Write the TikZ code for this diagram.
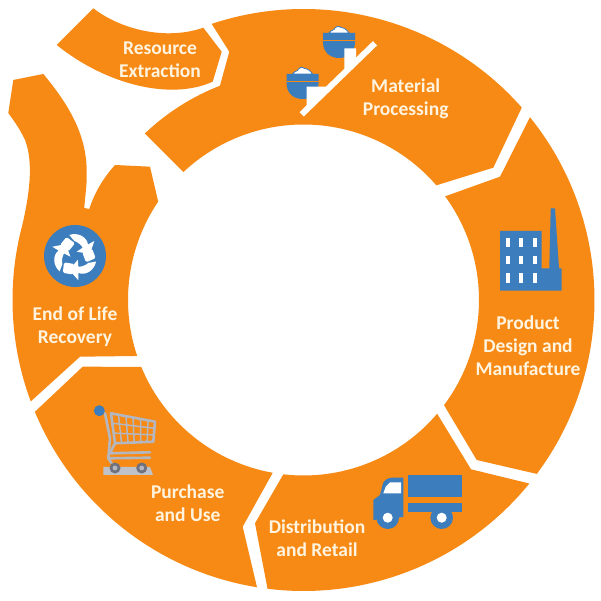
\documentclass[tikz,border=0pt]{standalone}
\usepackage{fontspec}
\setmainfont{Carlito}
\usetikzlibrary{calc}
\definecolor{ringor}{HTML}{F68A15}
\definecolor{iconbl}{HTML}{3B7DBD}
\definecolor{creamt}{HTML}{FFF4E0}
\definecolor{cartgr}{HTML}{B4B7C0}
\definecolor{cartdk}{HTML}{6F727C}
\tikzset{
  seg/.style={fill=ringor,draw=none},
  lab/.style={text=creamt,font=\fontsize{19.5}{23}\selectfont\bfseries,align=center,inner sep=0pt},
  iconf/.style={fill=iconbl,draw=none},
  whitef/.style={fill=white,draw=none},
  wire/.style={draw=cartgr,line width=1.5pt},
  tube/.style={draw=cartgr,line width=2.6pt,line cap=round,line join=round},
  hopper/.pic={
    \fill[iconbl] (-16,0) -- (16,0) -- (16,-9) .. controls (16,-20) and (8,-25) .. (0,-25) .. controls (-8,-25) and (-16,-20) .. (-16,-9) -- cycle;
    \draw[ringor,line width=0.8pt] (-16,-7) -- (16,-7);
    \draw[fill=white,draw=iconbl,line width=0.8pt] (-10,0) .. controls (-8,1) and (-8,3.5) .. (-5,3.5) .. controls (-4,6.5) and (0,7.5) .. (2,5.5) .. controls (5,5.5) and (8,3) .. (10,0) -- cycle;
  }
}
\begin{document}
\begin{tikzpicture}[x=1pt,y=1pt]
\useasboundingbox (0,0) rectangle (600,601);
\fill[white] (0,0) rectangle (600,601);
\coordinate (C) at (303.5,301);
% ring segments
\fill[seg] ([shift={(108.4:291pt)}]C) arc[start angle=108.4,end angle=41.4,radius=291pt] -- (493.3,433.3) -- ([shift={(40.8:175.5pt)}]C) arc[start angle=40.8,end angle=133.2,radius=175.5pt] -- ([shift={(133.6:230pt)}]C) arc[start angle=133.6,end angle=111.3,radius=230pt] -- (229.3,549.3) -- cycle;
\fill[seg] ([shift={(38.9:291pt)}]C) arc[start angle=38.9,end angle=-36.7,radius=291pt] -- (476.7,141) -- ([shift={(-36.8:175.5pt)}]C) arc[start angle=-36.8,end angle=36.2,radius=175.5pt] -- (500,424.3) -- cycle;
\fill[seg] ([shift={(-39.1:291pt)}]C) arc[start angle=-39.1,end angle=-97.1,radius=291pt] -- (255,77.7) -- ([shift={(-96.6:175.5pt)}]C) arc[start angle=-96.6,end angle=-40.4,radius=175.5pt] -- (471,131.7) -- cycle;
\fill[seg] ([shift={(-99.2:291pt)}]C) arc[start angle=-99.2,end angle=-157.4,radius=291pt] -- (82.7,234.3) -- ([shift={(-157.6:175.5pt)}]C) arc[start angle=-157.6,end angle=-100.1,radius=175.5pt] -- (242.7,74.3) -- cycle;
\fill[seg] ([shift={(200.4:291pt)}]C) arc[start angle=200.4,end angle=165,radius=291pt]
  .. controls (29,405) and (34,438) .. (25,461) .. controls (20,472) and (14,480) .. (8.3,488) -- (13.3,521) -- (43.3,527)
  .. controls (70,495) and (87,465) .. (86.7,428) .. controls (87,415) and (85,405) .. (84.3,393) -- (89.3,392) .. controls (95,410) and (105,425) .. (115,436) -- (150,434.3) -- ([shift={(145.9:175.5pt)}]C) arc[start angle=145.9,end angle=198.6,radius=175.5pt] -- (80,244.3) -- cycle;
\fill[seg] (93.3,592.7) .. controls (120,572) and (165,560) .. (203.3,573.3) -- (221.7,549.3) -- (212.7,519.3) .. controls (170,500) and (105,517) .. (56.7,556) -- cycle;
% hoppers on the incline
\pic at (339,568) {hopper};
\pic at (302.5,527) {hopper};
\draw[white,line width=6pt] (301.7,486.7) -- (375,557.7);
\fill[whitef] (344.3,552.7) -- (356,552.7) -- (356,540) -- (344.3,528) -- cycle;
\fill[whitef] (306.7,514.3) -- (326.7,514.3) -- (326.7,511) -- (306.7,491.7) -- cycle;
% factory
\fill[iconf] (500,370) -- (541.7,370) -- (541.7,332.7) -- (549.3,332.7) -- (550.7,392.7) -- (555,392.7) -- (559,332.7) -- (561.7,332.7) -- (561.7,310.3) -- (500,310.3) -- cycle;
\foreach \wx in {506,519.3,532.7}
  \foreach \wa/\wb in {354.3/362.7,337/345.3,318.3/328.3}
    \fill[whitef] (\wx,\wa) rectangle ({\wx+4},\wb);
% truck
\fill[iconf] (408.3,126) rectangle (462.3,104.3);
\fill[iconf] (408.3,97.7) rectangle (462.3,89.3);
\fill[iconf] (403.3,123.3) -- (392,123.3) .. controls (388,123.3) and (385,121) .. (383,118) -- (380,106) -- (373.3,101) -- (373.3,81) -- (403.3,84) -- cycle;
\fill[iconf] (387.7,83.3) circle[radius=11.3pt];
\fill[iconf] (441.7,83.3) circle[radius=11.3pt];
\fill[whitef] (387.7,83.3) circle[radius=5pt];
\fill[whitef] (441.7,83.3) circle[radius=5pt];
\fill[whitef] (383.3,107.7) -- (385.7,114.3) -- (390,118.7) -- (401,118.7) -- (401,107.7) -- cycle;
% recycle symbol
\fill[iconf] (75,345) circle[radius=31pt];
\foreach \ra in {0,120,240}{
  \begin{scope}[shift={(75,345)},rotate=\ra]
    \fill[whitef,rounded corners=1.5pt] (-15,11) -- (-8.5,19) -- (0,12.7) -- (-6.7,4.5) -- cycle;
    \fill[whitef] (-5.7,21) .. controls (3,24) and (12,19) .. (13,11.5) -- (19.3,15) -- (15,2) -- (1.7,4.3) -- (7.7,8.3) .. controls (6,11) and (3,14) .. (-0.7,15) -- cycle;
  \end{scope}}
% cart
\fill[cartgr!85!white] (103.3,134) -- (150,134) -- (153,126) -- (103.3,126) -- cycle;
\coordinate (bTL) at (111,187.7);
\coordinate (bTR) at (155,179.3);
\coordinate (bBR) at (153.3,159.3);
\coordinate (bBL) at (115,157.7);
\foreach \wt in {0.17,0.34,0.5,0.67,0.84}
  \draw[wire] ($(bTL)!\wt!(bTR)$) -- ($(bBL)!\wt!(bBR)$);
\foreach \wt in {0.33,0.66}
  \draw[wire] ($(bTL)!\wt!(bBL)$) -- ($(bTR)!\wt!(bBR)$);
\draw[tube] (bTL) -- (bTR) -- (bBR) -- (bBL) -- cycle;
\draw[tube] (105,187.7) -- (110,162.7) -- (108.3,142.7) -- (111.7,137.7);
\draw[tube] (110,147.7) -- (150,148.7);
\draw[tube] (108.3,142.7) -- (150,143.3);
\draw[tube] (115,157.7) -- (110,147.7);
\fill[cartdk] (115,133) circle[radius=5.5pt];
\fill[cartdk] (141.7,133) circle[radius=5.5pt];
\fill[cartgr] (115,133) circle[radius=2.4pt];
\fill[cartgr] (141.7,133) circle[radius=2.4pt];
\fill[iconf] (99.3,190.3) circle[radius=5.5pt];
% labels
\node[lab] (re) at (160,541.5) {Resource\\Extraction};
\node[lab] (mp) at (405.7,502.5) {Material\\Processing};
\node[lab] (pd) at (528,255) {Product\\Design and\\Manufacture};
\node[lab] (dr) at (317,62.5) {Distribution\\and Retail};
\node[lab] (pu) at (187.7,98) {Purchase\\and Use};
\node[lab] (el) at (75,274.5) {End of Life\\Recovery};
\end{tikzpicture}
\end{document}
